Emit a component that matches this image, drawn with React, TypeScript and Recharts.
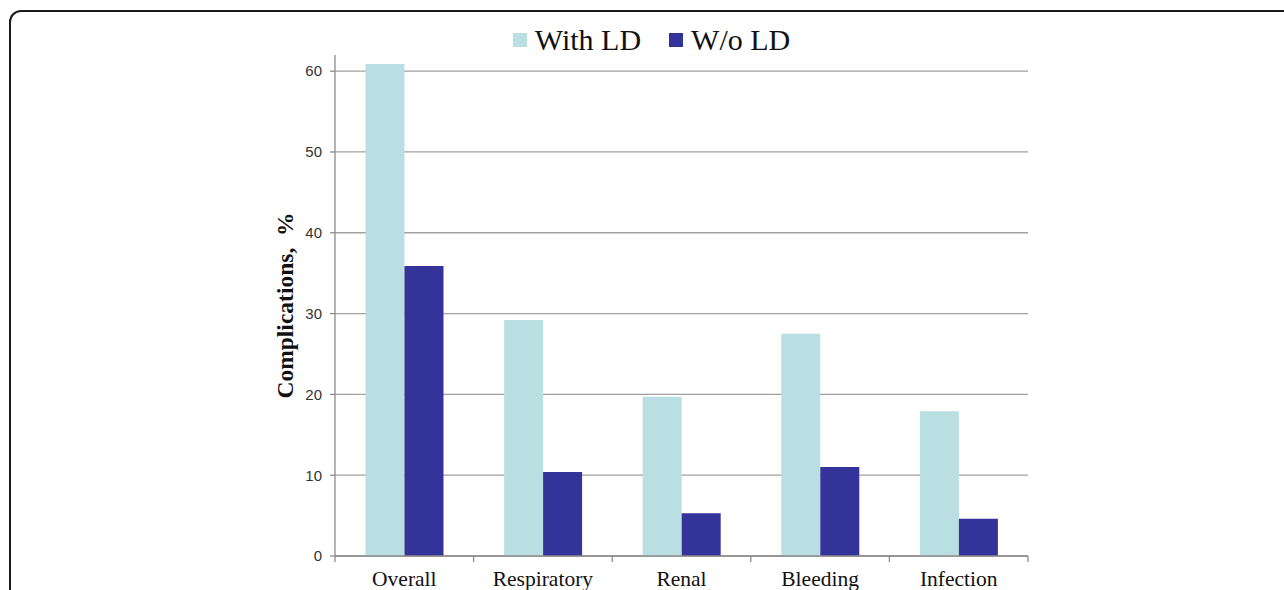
import React from "react";
import { BarChart, Bar, XAxis, YAxis, CartesianGrid, Legend } from "recharts";

const categories = ["Overall", "Respiratory", "Renal", "Bleeding", "Infection"];
const withLD = [60.9, 29.2, 19.7, 27.5, 17.9];
const withoutLD = [35.9, 10.4, 5.3, 11.0, 4.6];
const yTicks = [0, 10, 20, 30, 40, 50, 60];
const seriesNames = ["With LD", "W/o LD"];
const colors = ["#b9dfe2", "#333399"];

const data = categories.map((c, i) => ({ name: c, a: withLD[i], b: withoutLD[i] }));

const XTick = (props: any) => {
  const { x, y, payload } = props;
  const half = payload && payload.offset ? payload.offset : 0;
  const ay = y - 8;
  return (
    <g>
      <line x1={x - half} y1={ay} x2={x - half} y2={ay + 6} stroke="#8c8c8c" strokeWidth={1.3} />
      {payload.index === categories.length - 1 ? (
        <line x1={x + half} y1={ay} x2={x + half} y2={ay + 6} stroke="#8c8c8c" strokeWidth={1.3} />
      ) : null}
      <text
        x={x}
        y={ay + 30}
        textAnchor="middle"
        fontFamily="'Liberation Serif', 'Times New Roman', serif"
        fontSize={21.5}
        fill="#111"
      >
        {payload.value}
      </text>
    </g>
  );
};

const LegendContent = () => (
  <div
    style={{
      display: "flex",
      justifyContent: "center",
      alignItems: "center",
      height: 0,
      overflow: "visible",
      fontFamily: "'Liberation Serif', 'Times New Roman', serif",
      fontSize: 30,
      color: "#111",
    }}
  >
    {seriesNames.map((n, i) => (
      <div key={n} style={{ display: "flex", alignItems: "center", marginRight: i === 0 ? 28 : 0 }}>
        <span style={{ display: "inline-block", width: 14, height: 14, background: colors[i], marginRight: 8 }} />
        <span>{n}</span>
      </div>
    ))}
  </div>
);

const YLabel = (props: any) => {
  const vb = props.viewBox || {};
  const cx = vb.x + 10;
  const cy = vb.y + vb.height / 2;
  return (
    <text
      x={cx}
      y={cy}
      transform={`rotate(-90, ${cx}, ${cy})`}
      textAnchor="middle"
      dominantBaseline="central"
      fontFamily="'Liberation Serif', 'Times New Roman', serif"
      fontWeight="bold"
      fontSize={23.5}
      fill="#111"
      style={{ whiteSpace: "pre" }}
    >
      {"Complications,  %"}
    </text>
  );
};

export default function App() {
  return (
    <div style={{ position: "absolute", left: 0, top: 0, width: 1284, height: 590, background: "#fff", overflow: "hidden" }}>
      <div
        style={{
          position: "absolute",
          left: 9,
          top: 10,
          width: 1400,
          height: 700,
          border: "2px solid #1a1a1a",
          borderRadius: 12,
          boxSizing: "border-box",
        }}
      />
      <div style={{ position: "absolute", left: 0, top: 0 }}>
        <BarChart
          width={1284}
          height={590}
          data={data}
          margin={{ top: 55, right: 256, bottom: 0, left: 275 }}
          barCategoryGap="22%"
          barGap={0}
        >
          <CartesianGrid vertical={false} stroke="#a0a0a0" strokeWidth={1.3} syncWithTicks />
          <XAxis
            dataKey="name"
            axisLine={{ stroke: "#8c8c8c", strokeWidth: 1.3 }}
            tickLine={false}
            tick={<XTick />}
            interval={0}
            height={34}
          />
          <YAxis
            width={60}
            domain={[0, 62]}
            ticks={yTicks}
            allowDataOverflow
            axisLine={{ stroke: "#8c8c8c", strokeWidth: 1.3 }}
            tickLine={{ stroke: "#8c8c8c", strokeWidth: 1.3 }}
            tickSize={5}
            tickMargin={8}
            tick={{ fontFamily: "'Liberation Sans', Arial, sans-serif", fontSize: 15, fill: "#333" }}
            label={<YLabel />}
          />
          <Legend verticalAlign="top" align="center" content={<LegendContent />} wrapperStyle={{ top: 40, height: 0 }} />
          <Bar dataKey="a" name={seriesNames[0]} fill={colors[0]} isAnimationActive={false} />
          <Bar dataKey="b" name={seriesNames[1]} fill={colors[1]} isAnimationActive={false} />
        </BarChart>
      </div>
    </div>
  );
}
